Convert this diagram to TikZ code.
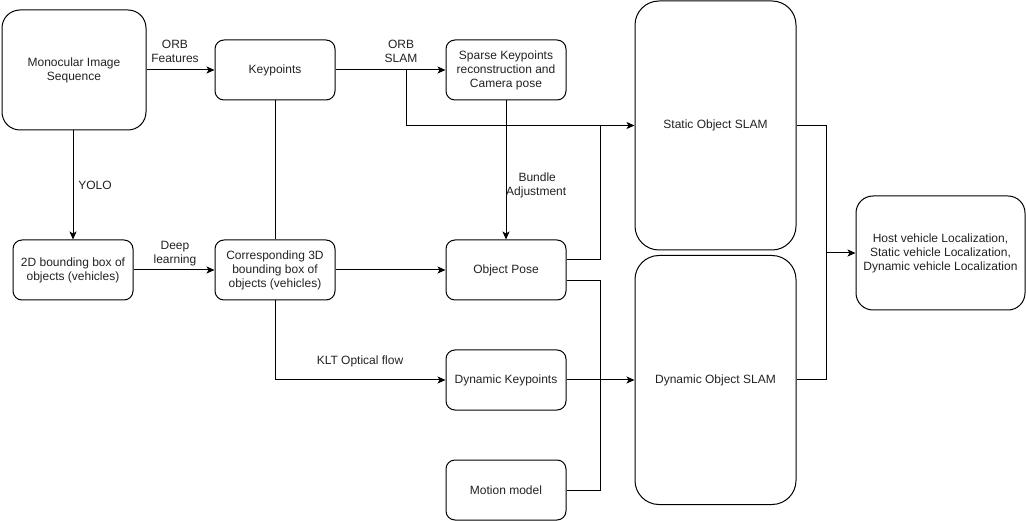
\documentclass[tikz,border=0pt]{standalone}
\usepackage{fontspec}
\setmainfont{Liberation Sans}
\usetikzlibrary{arrows.meta,calc}
\definecolor{txt}{HTML}{222222}
\tikzset{
  x=1pt,y=-1pt,
  box/.style={draw=black,line width=1pt,rectangle,inner sep=0pt,align=center,text=txt,font=\fontsize{12}{14}\selectfont},
  small/.style={box,minimum width=120pt,minimum height=60pt,rounded corners=9pt},
  big/.style={box,minimum width=161pt,minimum height=249pt,rounded corners=24pt},
  line/.style={draw=black,line width=1pt},
  arr/.style={line,-{Stealth[length=8pt,width=7pt,inset=2pt]}},
  lbl/.style={align=center,text=txt,font=\fontsize{12}{14}\selectfont,inner sep=0pt}
}
\begin{document}
\begin{tikzpicture}
\useasboundingbox (0,0) rectangle (1026,521);
\node[box,minimum width=144pt,minimum height=120pt,rounded corners=18pt] (mono) at (74,70) {Monocular Image\\Sequence};
\node[small] (kp) at (275,70) {Keypoints};
\node[small] (sparse) at (506,70) {Sparse Keypoints\\reconstruction and\\Camera pose};
\node[big] (static) at (715.5,125.5) {Static Object SLAM};
\node[big] (dyn) at (715.5,380) {Dynamic Object SLAM};
\node[box,minimum width=169pt,minimum height=114pt,rounded corners=17pt] (host) at (940.5,253) {Host vehicle Localization,\\Static vehicle Localization,\\Dynamic vehicle Localization};
\node[small] (bb2d) at (73,270) {2D bounding box of\\objects (vehicles)};
\node[small] (bb3d) at (275,270) {Corresponding 3D\\bounding box of\\objects (vehicles)};
\node[small] (pose) at (506,270) {Object Pose};
\node[small] (dkp) at (506,380) {Dynamic Keypoints};
\node[small] (motion) at (506,490) {Motion model};

\coordinate (orbsplit) at (406,70);
\coordinate (jstatic) at (600,125.5);
\coordinate (jdyn) at (600,380);
\coordinate (jout) at (826,253);

\draw[arr] (mono.east) -- (kp.west);
\node[lbl] (l1) at (175,51) {ORB\\Features};
\draw[arr] (kp.east) -- (sparse.west);
\node[lbl] (l2) at (401,51) {ORB\\SLAM};
\draw[arr] (orbsplit) |- (static.west);
\draw[arr] (sparse.south) -- (pose.north);
\node[lbl,anchor=west] (l3) at (506,185) {\hspace{2pt}Bundle\\Adjustment};
\draw[line] ([yshift=10pt]pose.east) -| (jstatic);
\draw[line] ([yshift=-11pt]pose.east) -| (jdyn);
\draw[line] (motion.east) -| (jdyn);
\draw[arr] (dkp.east) -- (dyn.west);
\draw[arr] (bb3d.south) |- (dkp.west);
\node[lbl] (l4) at (360,361) {KLT Optical flow};
\draw[line] (kp.south) -- (bb3d.north);
\draw[arr] (mono.south -| bb2d.north) -- (bb2d.north);
\node[lbl] (l5) at (95,185) {YOLO};
\draw[arr] (bb2d.east) -- (bb3d.west);
\node[lbl] (l6) at (175,254) {Deep\\learning};
\draw[arr] (bb3d.east) -- (pose.west);
\draw[line] (static.east) -| (jout);
\draw[line] (dyn.east) -| (jout);
\draw[arr] (jout) -- (host.west);
\end{tikzpicture}
\end{document}
